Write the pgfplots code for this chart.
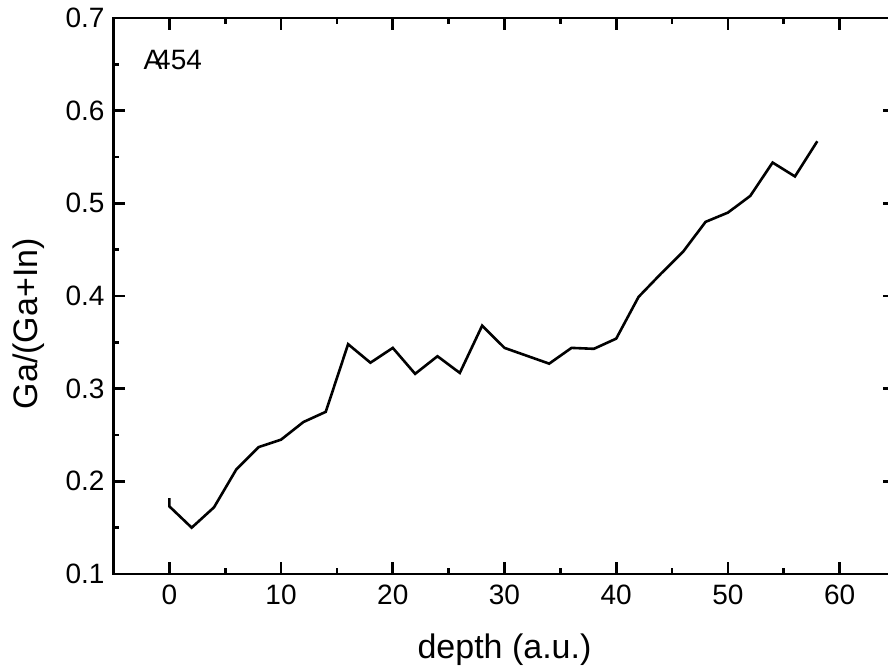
\documentclass[border=0pt]{standalone}
\usepackage{fontspec}
\setmainfont{Liberation Sans}
\usepackage{pgfplots}
\pgfplotsset{compat=1.18}

\begin{document}
\begin{tikzpicture}
\begin{axis}[
  at={(0,0)}, anchor=south west,
  scale only axis, width=391pt, height=278pt,
  xmin=-5, xmax=65, ymin=0.1, ymax=0.7,
  xtick={0,10,...,60}, ytick={0.1,0.2,...,0.7},
  minor tick num=1,
  tick align=inside,
  major tick length=6pt, minor tick length=3pt,
  every tick/.style={black, line width=1.3pt},
  axis line style={line width=1.3pt},
  /pgf/number format/assume math mode=true,
  tick label style={font=\fontsize{14}{16}\selectfont},
  xticklabel style={yshift=-2pt},
  yticklabel style={xshift=-1pt, /pgf/number format/.cd, fixed, fixed zerofill, precision=1},
  label style={font=\fontsize{17}{20}\selectfont},
  xlabel={depth (a.u.)}, ylabel={Ga/(Ga+In)},
  xlabel style={at={(axis description cs:0.5,-0.137)}, anchor=center},
  ylabel style={at={(axis description cs:-0.109,0.45)}, anchor=center, rotate=0},
]
\addplot[black, line width=1.3pt, mark=none] coordinates {
  (0,0.182) (0,0.173) (2,0.150) (4,0.172) (6,0.213) (8,0.237) (10,0.245)
  (12,0.264) (14,0.275) (16,0.348) (18,0.328) (20,0.344) (22,0.316)
  (24,0.335) (26,0.317) (28,0.368) (30,0.344) (34,0.327) (36,0.344)
  (38,0.343) (40,0.354) (42,0.399) (44,0.424) (46,0.448) (48,0.480)
  (50,0.490) (52,0.508) (54,0.544) (56,0.529) (58,0.567)
};
\node[anchor=west, inner sep=0pt, font=\fontsize{14}{16}\selectfont] at (axis cs:-2.35,0.655) {A\kern-3.5pt454};
\end{axis}
\pgfresetboundingbox
\useasboundingbox (-56.75pt,-47.5pt) rectangle (387.25pt,287pt);
\end{tikzpicture}
\end{document}
